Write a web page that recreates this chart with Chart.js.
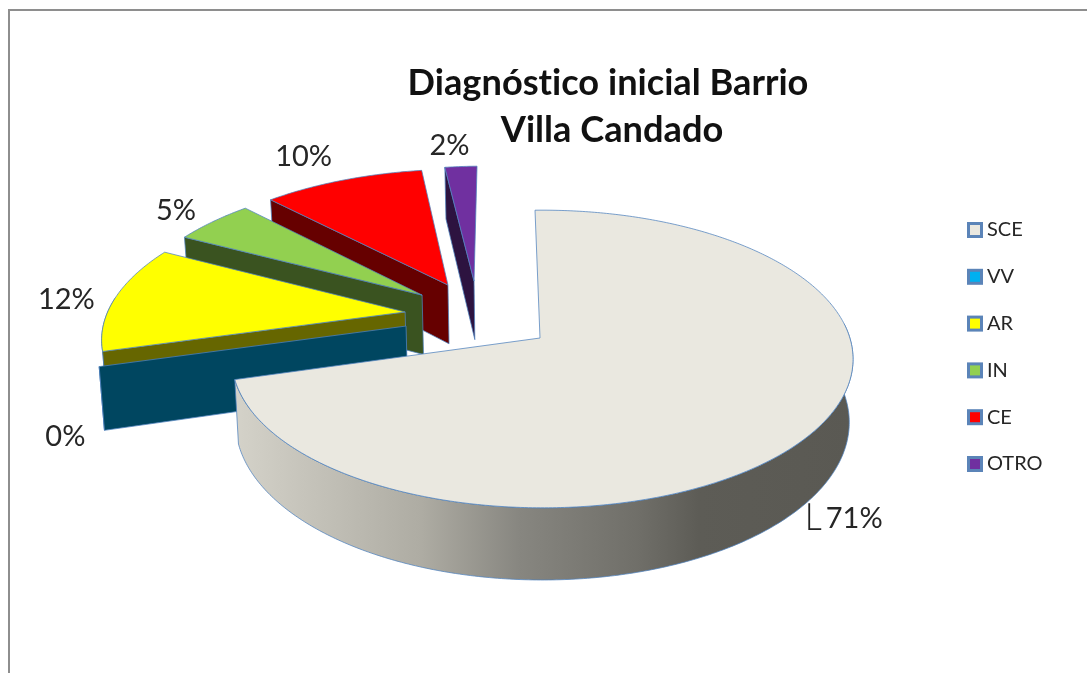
<!DOCTYPE html>
<html>
<head>
<meta charset="utf-8">
<style>
html,body{margin:0;padding:0;background:#fff;overflow:hidden}
#frame{position:absolute;left:8px;top:9px;width:1079px;height:664px;border-left:2px solid #8e8e8e;border-top:2px solid #8e8e8e;box-sizing:border-box}
#chart{position:absolute;left:0;top:0;filter:blur(.35px)}
</style>
<script src="https://cdn.jsdelivr.net/npm/chart.js@4/dist/chart.umd.min.js"></script>
</head>
<body>
<div id="frame"></div>
<canvas id="chart" width="1087" height="673"></canvas>
<script>
const categories = ['SCE', 'VV', 'AR', 'IN', 'CE', 'OTRO'];
const percentages = [71, 0, 12, 5, 10, 2];
const sliceColors = ['#EAE8E0', '#00B0F0', '#FFFF00', '#92D050', '#FF0000', '#7030A0'];
const titleLines = ['Diagnóstico inicial Barrio', 'Villa Candado'];

// How far each slice is pulled out, in units of the pie radius (across, depth).
const explode = [[0, 0], [-.433, -.083], [-.442, -.183], [-.393, -.307], [-.310, -.383], [-.223, -.413]];
// Label nudge from the slice's outer midpoint, in pixels.
const labelNudge = [[39, 86], [-26, 70], [-41, 1], [-31, -11], [-35, -24], [-9, -21]];

const TILT = .466, PERSP = .141, DEPTH = 62, CONVERGE = .012, WIDTH = .9825, DRIFT = .0075;
const FONT = 'Lato, "Open Sans", sans-serif';
const EDGE = 'rgba(79,129,189,.75)';

function darker(hex, k) {
  const n = parseInt(hex.slice(1), 16);
  return `rgb(${(n >> 16 & 255) * k},${(n >> 8 & 255) * k},${(n & 255) * k})`;
}

function projector(arc) {
  const R = arc.outerRadius, cx = arc.x, cy = arc.y;
  return (u, v, low) => {
    const s = 1 / (1 - PERSP * v);
    let x = cx + R * u * s, y = cy + R * TILT * v * s;
    if (low) { x = cx + (x - cx) * (1 - CONVERGE); y += DEPTH * s; }
    return [x, y];
  };
}
function trace(ctx, pts) {
  ctx.beginPath();
  pts.forEach((p, i) => i ? ctx.lineTo(p[0], p[1]) : ctx.moveTo(p[0], p[1]));
  ctx.closePath();
}
function paint(ctx, pts, fill) {
  trace(ctx, pts);
  ctx.fillStyle = fill;
  ctx.fill();
  ctx.lineWidth = 1;
  ctx.strokeStyle = EDGE;
  ctx.stroke();
}

const pie3d = {
  id: 'pie3d',
  beforeDatasetDraw(chart, args) {
    const ctx = chart.ctx, arcs = args.meta.data;
    for (let i = arcs.length - 1; i >= 0; i--) {
      const arc = arcs[i], P = projector(arc), [a, b] = explode[i];
      const col = chart.data.datasets[0].backgroundColor[i];
      const rim = [];
      const n = Math.max(1, Math.ceil((arc.endAngle - arc.startAngle) * 90));
      for (let k = 0; k <= n; k++) {
        const t = arc.startAngle + (arc.endAngle - arc.startAngle) * k / n;
        rim.push([a + DRIFT + WIDTH * Math.cos(t), b + Math.sin(t), Math.sin(t)]);
      }
      const pulled = a !== 0 || b !== 0;
      // outer wall, where it faces the viewer
      const front = rim.filter(r => r[2] > -.1);
      if (front.length > 1) {
        let fill = darker(col, .4);
        if (!pulled) {
          const g = ctx.createLinearGradient(236, 0, 853, 0);
          [[0, '#d4d2c9'], [.3, '#aeaca3'], [.46, '#878680'], [.65, '#706f69'], [.75, '#5d5c56'], [1, '#5a5953']]
            .forEach(s => g.addColorStop(s[0], s[1]));
          fill = g;
        }
        paint(ctx, front.map(r => P(r[0], r[1], false)).concat(front.slice().reverse().map(r => P(r[0], r[1], true))), fill);
      }
      // cut face on the start side of a pulled-out slice
      if (pulled) {
        const o = rim[0];
        paint(ctx, [P(a, b, false), P(o[0], o[1], false), P(o[0], o[1], true), P(a, b, true)], darker(col, .4));
      }
      // top face
      if (arc.endAngle > arc.startAngle) {
        const top = rim.map(r => P(r[0], r[1], false));
        if (pulled) top.push(P(a, b, false)); else top.push(P(0, 0, false));
        paint(ctx, top, col);
      }
    }
    return false;
  },
  afterDraw(chart) {
    const ctx = chart.ctx, arcs = chart.getDatasetMeta(0).data;
    ctx.save();
    // value labels
    ctx.textAlign = 'center';
    ctx.textBaseline = 'middle';
    ctx.fillStyle = '#262626';
    ctx.font = '29px ' + FONT;
    arcs.forEach((arc, i) => {
      const P = projector(arc), [a, b] = explode[i];
      const t = (arc.startAngle + arc.endAngle) / 2;
      const m = P(a + Math.cos(t), b + Math.sin(t), false);
      ctx.fillText(percentages[i] + '%', m[0] + labelNudge[i][0], m[1] + labelNudge[i][1]);
      if (i === 0) {
        // leader line of the largest slice
        ctx.beginPath();
        ctx.moveTo(m[0] - 6, m[1] + 71);
        ctx.lineTo(m[0] - 6, m[1] + 97);
        ctx.lineTo(m[0] + 6, m[1] + 97);
        ctx.strokeStyle = '#222';
        ctx.lineWidth = 1.8;
        ctx.stroke();
      }
    });
    // title
    ctx.fillStyle = '#111';
    ctx.textRendering = 'optimizeSpeed';
    ctx.font = 'bold 36.2px ' + FONT;
    ctx.fillText(titleLines[0], 608, 83);
    ctx.fillText(titleLines[1], 612, 130);
    ctx.textRendering = 'auto';
    // legend
    ctx.textAlign = 'left';
    ctx.font = '20px ' + FONT;
    categories.forEach((c, i) => {
      const y = 230 + i * 46.8;
      ctx.fillStyle = sliceColors[i];
      ctx.fillRect(968.5, y - 6.5, 13, 13);
      ctx.strokeStyle = '#5b84b8';
      ctx.lineWidth = 3;
      ctx.strokeRect(968.5, y - 6.5, 13, 13);
      ctx.fillStyle = '#262626';
      ctx.fillText(c, 987, y);
    });
    ctx.restore();
  }
};

new Chart(document.getElementById('chart'), {
  type: 'pie',
  data: { labels: categories, datasets: [{ data: percentages, backgroundColor: sliceColors, borderWidth: 0 }] },
  options: {
    responsive: false,
    animation: false,
    rotation: -1.5,
    layout: { padding: { left: 227, right: 234, top: 25, bottom: 22 } },
    plugins: { legend: { display: false }, tooltip: { enabled: false }, title: { display: false } }
  },
  plugins: [pie3d]
});
</script>
</body>
</html>
